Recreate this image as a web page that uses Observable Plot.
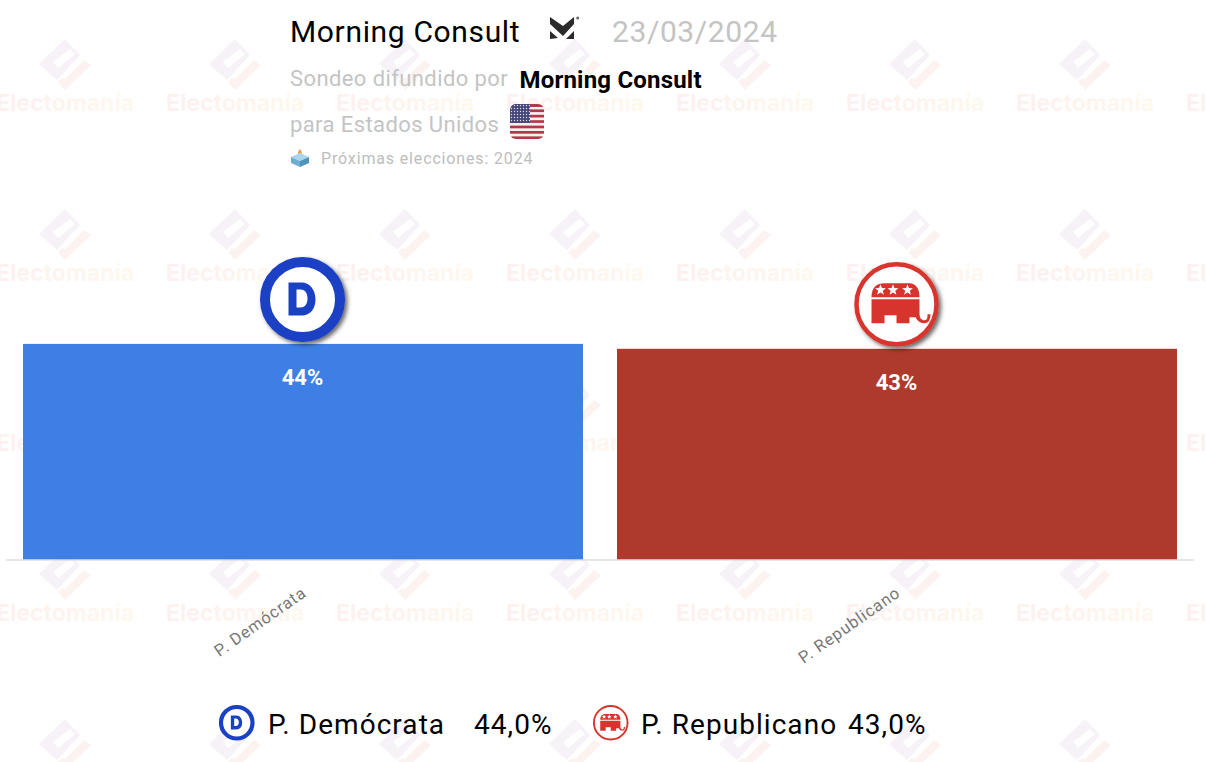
<!DOCTYPE html>
<html lang="es">
<head>
<meta charset="utf-8">
<script src="https://cdn.jsdelivr.net/npm/d3@7"></script>
<script src="https://cdn.jsdelivr.net/npm/@observablehq/plot@0.6"></script>
<style>
html,body{margin:0;padding:0;background:#fff;}
body{font-family:Roboto,sans-serif;}
#stage{position:relative;width:1206px;height:762px;overflow:hidden;}
#wm,#chart{position:absolute;left:0;top:0;}
#chart svg{background:transparent;display:block;}
#chart [aria-label="x-axis tick label"]{letter-spacing:.9px;}
.t{position:absolute;white-space:nowrap;line-height:1;}
.ic{position:absolute;display:block;}
.leg{font-size:28px;color:#000;letter-spacing:1.05px;top:711px;}
</style>
</head>
<body>
<div id="stage">
<svg id="wm" width="1206" height="762"></svg>
<div id="chart"></div>
<div class="t" style="left:290px;top:17px;font-size:30px;color:#000;letter-spacing:.65px">Morning Consult</div>
<svg class="ic" style="left:549px;top:15px" width="32" height="26" viewBox="0 0 32 26">
  <path d="M1 2 L14 11 L25 2 V9 L14 21 L1 9 Z" fill="#2b2b2b"/>
  <path d="M1 16 L9 23 L1 24 Z M25 16 V24 L17 24 Z" fill="#2b2b2b"/>
  <circle cx="28.7" cy="3" r="1.5" fill="#666"/>
</svg>
<div class="t" style="left:612px;top:17px;font-size:30px;color:#c4c4c4;letter-spacing:.6px">23/03/2024</div>
<div class="t" style="left:290px;top:68px;font-size:22px;color:#c4c4c4;letter-spacing:.4px">Sondeo difundido por</div>
<div class="t" style="left:519.5px;top:68px;font-size:24px;font-weight:700;color:#000;letter-spacing:.2px">Morning Consult</div>
<div class="t" style="left:290px;top:114px;font-size:22px;color:#c4c4c4;letter-spacing:.4px">para Estados Unidos</div>
<svg class="ic" id="flag" style="left:510px;top:104px" width="34" height="35" viewBox="0 0 34 35">
  <defs><clipPath id="fc"><rect width="34" height="35" rx="6"/></clipPath>
  <pattern id="st" width="3" height="3" patternUnits="userSpaceOnUse"><circle cx="1.5" cy="1.5" r=".7" fill="#dfe0ee"/></pattern></defs>
  <g clip-path="url(#fc)">
    <rect width="34" height="35" fill="#f4f0f0"/>
    <g fill="#b5384a">
      <rect y="0" width="34" height="3"/><rect y="5.4" width="34" height="2.7"/><rect y="10.8" width="34" height="2.7"/>
      <rect y="16.2" width="34" height="2.7"/><rect y="21.6" width="34" height="2.7"/><rect y="27" width="34" height="2.7"/><rect y="32.4" width="34" height="2.7"/>
    </g>
    <rect width="20" height="19" fill="#44467a"/><rect width="20" height="19" fill="url(#st)"/>
  </g>
</svg>
<svg class="ic" style="left:290px;top:148px" width="20" height="20" viewBox="0 0 20 20">
  <path d="M9.5 1 L11.5 3 L12 7 L8 7 L8 4 Z" fill="#e6a25a"/>
  <path d="M10 5 L19 9 L10 13 L1 9 Z" fill="#a9d6ec"/>
  <path d="M1 9 L10 13 L10 19 L1 15 Z" fill="#6eaed2"/>
  <path d="M19 9 L10 13 L10 19 L19 15 Z" fill="#4f93bb"/>
</svg>
<div class="t" style="left:321px;top:151px;font-size:16px;color:#bdbdbd;letter-spacing:.85px">Próximas elecciones: 2024</div>
<img class="ic" id="legD" style="left:217px;top:703px" width="42" height="42" alt="">
<div class="t leg" style="left:268px">P. Demócrata</div>
<div class="t leg" style="left:474px">44,0%</div>
<img class="ic" id="legR" style="left:591px;top:703px" width="42" height="42" alt="">
<div class="t leg" style="left:641px">P. Republicano</div>
<div class="t leg" style="left:848px">43,0%</div>
</div>
<script>
const parties = ["P. Demócrata", "P. Republicano"];
const shares = [44, 43];
const barColors = ["#3e7fe6", "#ae392d"];

const shadowDefs = (shadow) => `<defs><filter id="s" x="-20%" y="-20%" width="150%" height="150%"><feDropShadow dx="2.5" dy="2.5" stdDeviation="${shadow?2:0}" flood-color="#000" flood-opacity="${shadow?0.6:0}"/></filter></defs>`;
const demLogo = (shadow) => `<svg xmlns="http://www.w3.org/2000/svg" width="100" height="100" viewBox="0 0 100 100">
${shadowDefs(shadow)}
<g filter="url(#s)"><circle cx="47" cy="47" r="37.5" fill="#fff" stroke="#1a41c4" stroke-width="10"/></g>
<path fill-rule="evenodd" d="M33 30 H46 C55 30 60 38 60 47 C60 56 55 63 46 63 H33 Z M41 37 V55 H45 C49 55 52 52 52 46 C52 40 49 37 45 37 Z" fill="#1a41c4"/></svg>`;
const repLogo = (shadow) => `<svg xmlns="http://www.w3.org/2000/svg" width="100" height="100" viewBox="0 0 100 100">
${shadowDefs(shadow)}
<g filter="url(#s)"><circle cx="47" cy="47" r="40" fill="#fff" stroke="#d7342e" stroke-width="4.5"/></g>
<path d="M22 40 C22 30 27 26 35 26 H60 C66 26 70 31 70 40 Z" fill="#d7342e"/>
<path d="M22 42 H70 V56 C70 61 72 63 75 63 C78 63 78 60 78 57 H81 C81 62 79 66 75 66 C71 66 68 64 66 60 L60 60 V66 H47 V58 H35 V66 H22 Z" fill="#d7342e"/>
<g fill="#fff"><path id="a" d="M31 27 l1.4 3.8 4 .2 -3.1 2.5 1.1 3.9 -3.4 -2.2 -3.4 2.2 1.1 -3.9 -3.1 -2.5 4 -.2 Z"/><use href="#a" x="12.5"/><use href="#a" x="27"/></g></svg>`;
const uri = s => "data:image/svg+xml;charset=utf-8," + encodeURIComponent(s);

const table = parties.map((party, i) => ({party, share: shares[i], color: barColors[i], logo: uri(i === 0 ? demLogo(true) : repLogo(true))}));
document.getElementById("legD").src = uri(demLogo(false));
document.getElementById("legR").src = uri(repLogo(false));

// watermark tile repeated over the page
const wm = d3.select("#wm");
const defs = wm.append("defs");
const g1 = defs.append("linearGradient").attr("id","wmg");
g1.append("stop").attr("offset","0").attr("stop-color","#fdf0f0");
g1.append("stop").attr("offset","1").attr("stop-color","#fff8ee");
for (let y of d3.range(0, 5)) for (let x of d3.range(0, 8)) {
  const g = wm.append("g").attr("transform", `translate(${65 + 170*x},${65 + 170*y})`);
  g.append("path").attr("fill-rule","evenodd").attr("fill","#f6f2f8")
   .attr("d","M0 -26 L15 -10 L-8 15 L-26 -1 Z M-12 -3 L-7 3 L10 -11 L5 -16 Z");
  g.append("path").attr("fill","#fcf3f0").attr("d","M-7 17 L0 25 L26 0 L19 -5 L0 14 L-3 13 Z");
  g.append("text").attr("x",0).attr("y",46).attr("text-anchor","middle")
   .attr("font-family","Inter,Roboto,sans-serif").attr("font-weight",700).attr("font-size",23)
   .attr("fill","url(#wmg)").text("Electomanía");
}

const plot = Plot.plot({
  width: 1206, height: 762,
  marginTop: 69.5, marginBottom: 202.5, marginLeft: 6, marginRight: 12,
  style: {background: "transparent", fontFamily: "Roboto, sans-serif"},
  x: {domain: parties, paddingInner: 0.0572, paddingOuter: 0.0286, label: null},
  y: {domain: [0, 100], axis: null},
  marks: [
    Plot.barY(table, {x: "party", y: "share", fill: "color"}),
    Plot.ruleY([0], {stroke: "#cfcfcf", strokeWidth: 1}),
    Plot.text(table, {x: "party", y: "share", text: d => d.share + "%", dy: 34, dx: -1, fill: "#fff", fontSize: 22, fontWeight: 700}),
    Plot.image(table, {x: "party", y: "share", src: "logo", width: 100, height: 100, dy: -42, dx: 2}),
    Plot.axisX({tickSize: 0, tickRotate: -35, tickPadding: 31, fontSize: 16.5, color: "#777", label: null, dx: 1})
  ]
});
document.getElementById("chart").appendChild(plot);
</script>
</body>
</html>
